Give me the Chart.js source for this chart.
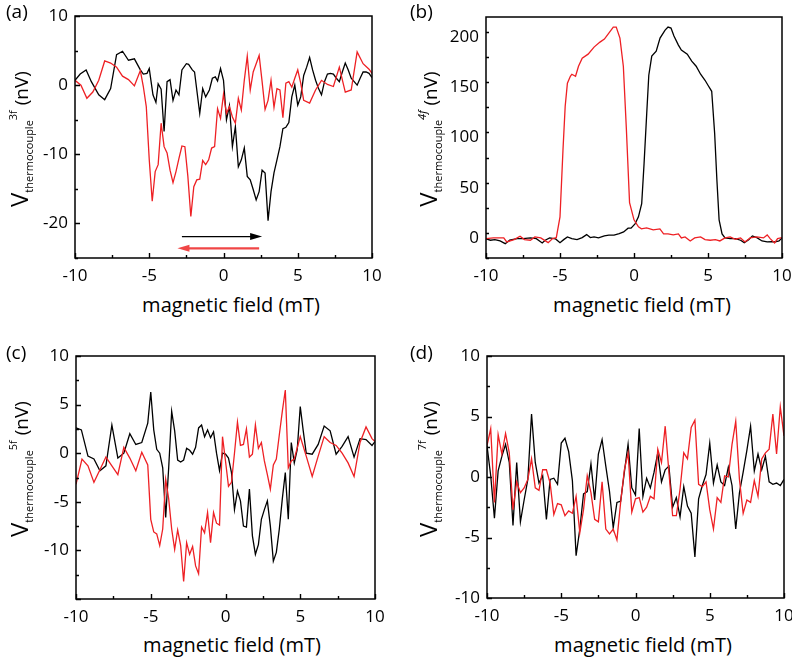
<!DOCTYPE html>
<html>
<head>
<meta charset="utf-8">
<script src="https://cdn.jsdelivr.net/npm/chart.js@4.4.1/dist/chart.umd.min.js"></script>
<style>
  body { margin: 0; background: #fff; width: 792px; height: 658px; position: relative; overflow: hidden; }
  .box { position: absolute; }
  .lab, .xt, .ylab { position: absolute; font-family: 'Open Sans', sans-serif; color: #000; white-space: nowrap; line-height: 1; }
  .lab { font-size: 19px; }
  .xt { font-size: 20px; transform: translate(-50%, -50%); }
  .ylab { font-size: 19px; transform: translate(-50%, -50%) rotate(-90deg); }
  .ylab .big { font-size: 24px; }
  .ylab .sub { font-size: 11px; position: relative; top: 5px; }
  .ylab .sup { font-size: 11px; position: relative; top: -11px; }
</style>
</head>
<body>

<div class="box" style="left:0;top:0"><canvas id="ca" width="396" height="290"></canvas></div>
<div class="box" style="left:396px;top:0"><canvas id="cb" width="396" height="290"></canvas></div>
<div class="box" style="left:0;top:330px"><canvas id="cc" width="396" height="300"></canvas></div>
<div class="box" style="left:396px;top:330px"><canvas id="cd" width="396" height="300"></canvas></div>

<div class="lab" style="left:6px;top:2px">(a)</div>
<div class="lab" style="left:410px;top:2px">(b)</div>
<div class="lab" style="left:6px;top:343px">(c)</div>
<div class="lab" style="left:410px;top:343px">(d)</div>

<div class="ylab" style="left:19px;top:139px"><span class="big">V</span><span class="sub">thermocouple</span><span class="sup">3f</span> (nV)</div>
<div class="ylab" style="left:428px;top:139px"><span class="big">V</span><span class="sub">thermocouple</span><span class="sup"><i>4f</i></span> (nV)</div>
<div class="ylab" style="left:19px;top:469px"><span class="big">V</span><span class="sub">thermocouple</span><span class="sup">5f</span> (nV)</div>
<div class="ylab" style="left:428px;top:469px"><span class="big">V</span><span class="sub">thermocouple</span><span class="sup">7f</span> (nV)</div>

<div class="xt" style="left:231px;top:305px">magnetic field (mT)</div>
<div class="xt" style="left:642px;top:305px">magnetic field (mT)</div>
<div class="xt" style="left:232px;top:645px">magnetic field (mT)</div>
<div class="xt" style="left:643px;top:645px">magnetic field (mT)</div>

<script>
// ---- data ----
// (a) 3f
const aBlackX = [-10, -9.65, -9.25, -8.9, -8.4, -8.0, -7.6, -7.2, -6.8, -6.4, -6.0, -5.6, -5.4, -5.15, -5.0, -4.75, -4.55, -4.4, -4.2, -4.0, -3.8, -3.6, -3.4, -3.2, -3.0, -2.8, -2.5, -2.35, -2.1, -1.95, -1.6, -1.4, -1.2, -0.95, -0.75, -0.55, -0.4, -0.2, 0.0, 0.2, 0.4, 0.6, 0.8, 1.0, 1.2, 1.4, 1.6, 1.8, 2.0, 2.2, 2.4, 2.6, 2.8, 3.0, 3.2, 3.4, 3.6, 3.8, 4.0, 4.2, 4.4, 4.6, 4.8, 5.0, 5.2, 5.4, 5.6, 5.8, 6.0, 6.2, 6.4, 6.6, 6.8, 7.0, 7.2, 7.4, 7.6, 7.8, 8.0, 8.2, 8.4, 8.6, 8.8, 9.0, 9.2, 9.4, 9.6, 9.8, 10.0];
const aBlackY = [0.7, 1.6, 2.2, 0.5, -1.4, -2.1, -0.5, 4.4, 4.9, 3.6, 3.8, 2.2, 1.6, 1.7, 2.4, -1.4, -2.5, 0.2, -0.6, -6.7, 0.5, 0.8, -2.2, -0.7, -1.4, 2.2, 3.1, 3.0, 2.2, 1.9, -4.1, -0.5, -1.7, -0.7, 1.0, 1.2, 0.6, 2.4, 0.7, -5.0, -3.0, -8.9, -6.0, -11.8, -10.8, -9.1, -13.2, -13.7, -15.1, -16.6, -15.4, -12.3, -12.7, -19.6, -15.4, -12.7, -10.8, -8.9, -6.3, -6.1, -5.4, -1.7, 0.0, -2.9, -1.7, 1.4, 2.6, 4.0, 2.2, 0.7, -0.5, -1.4, 0.5, 1.6, 1.7, 1.6, 1.0, 0.5, 1.9, 3.2, 2.2, 1.0, 0.5, 0.0, 1.0, 1.9, 1.9, 1.7, 1.1];
const aRedX = [-10, -9.6, -9.2, -8.8, -8.4, -8.0, -7.6, -7.2, -6.8, -6.4, -6.0, -5.6, -5.4, -5.2, -5.0, -4.8, -4.6, -4.4, -4.2, -4.0, -3.8, -3.6, -3.4, -3.2, -3.0, -2.8, -2.6, -2.4, -2.2, -2.0, -1.8, -1.6, -1.4, -1.2, -1.0, -0.8, -0.6, -0.4, -0.2, 0.0, 0.2, 0.4, 0.6, 0.8, 1.0, 1.2, 1.4, 1.6, 1.8, 2.0, 2.2, 2.4, 2.6, 2.8, 3.0, 3.2, 3.4, 3.6, 3.8, 4.0, 4.2, 4.4, 4.6, 4.8, 5.0, 5.2, 5.4, 5.8, 6.2, 6.6, 7.0, 7.4, 7.8, 8.2, 8.6, 9.0, 9.4, 9.8, 10.0];
const aRedY = [0.7, 0.0, -1.9, -1.0, 0.7, 3.5, 3.2, 2.6, 1.3, 0.8, -0.1, 2.1, -0.2, -3.1, -10.8, -16.8, -12.5, -11.5, -5.5, -8.9, -9.8, -12.3, -14.1, -12.5, -10.6, -8.8, -8.9, -13.2, -19.0, -14.7, -13.7, -13.6, -10.9, -11.5, -10.8, -9.1, -8.9, -3.4, -4.8, -1.3, -4.1, -3.1, -4.6, -5.5, -1.9, -3.6, 0.7, 4.2, -0.7, 1.9, 3.1, 4.3, 0.5, -3.5, -2.2, 0.7, -3.2, -0.5, -0.7, -4.7, 0.3, 0.5, -0.3, 1.0, 2.2, 0.3, -2.2, -2.6, -0.7, 0.7, 0.1, -0.2, 2.6, -1.0, -0.7, 4.8, 3.1, 2.3, 1.7];
// sweep arrows in (a): x from -> to, and height
const arrowBlackX = [-2.8, 2.6];
const arrowRedX = [2.4, -3.1];
const arrowY = [-21.9, -23.6];

// (b) 4f
const bBlackX = [-10, -9.7, -9.4, -9.05, -8.7, -8.4, -7.9, -7.5, -7.0, -6.6, -6.2, -6.0, -5.7, -5.3, -5.0, -4.75, -4.5, -4.2, -3.85, -3.5, -3.2, -2.95, -2.7, -2.4, -2.0, -1.7, -1.35, -1.0, -0.7, -0.4, -0.2, 0.07, 0.3, 0.52, 0.68, 0.86, 1.0, 1.2, 1.5, 1.76, 2.1, 2.3, 2.5, 2.7, 3.0, 3.2, 3.6, 3.9, 4.2, 4.5, 4.8, 5.0, 5.25, 5.45, 5.6, 5.75, 5.95, 6.15, 6.5, 6.85, 7.2, 7.45, 7.75, 8.0, 8.3, 8.65, 9.0, 9.3, 9.55, 9.8, 10];
const bBlackY = [-1, -2.3, -1.7, -3, -5.7, -2.3, -0.7, -0.7, 0, -0.7, -5, -2.3, 0, -1, -4.7, -1.7, 1, -0.7, -1.7, 0.3, 3.3, 0.3, 1, 0, 2, 2.7, 2.7, 4.3, 6, 9.7, 9.7, 14, 21, 34, 74, 124, 162, 181, 186, 199, 207, 210, 209, 201, 192, 187, 183, 176, 171, 163, 157, 152, 146, 104, 58, 18, 4, 0, -0.7, -0.7, -2.3, -4.7, -1.7, 2, 0.3, -3, -4, -3.7, -4, -3, 0];
const bRedX = [-10, -9.5, -8.8, -8.6, -8.1, -7.7, -7.4, -7.0, -6.7, -6.3, -5.8, -5.5, -5.25, -5.0, -4.8, -4.65, -4.5, -4.3, -4.2, -3.95, -3.75, -3.5, -3.1, -2.7, -2.3, -2.0, -1.7, -1.4, -1.2, -0.95, -0.72, -0.52, -0.3, 0, 0.3, 0.5, 0.85, 1.3, 1.75, 2.0, 2.3, 2.65, 3.0, 3.2, 3.45, 3.8, 4.1, 4.5, 4.8, 5.15, 5.5, 5.8, 6.15, 6.5, 6.85, 7.2, 7.5, 7.85, 8.3, 8.75, 9.0, 9.2, 9.5, 9.7, 10];
const bRedY = [-0.7, 0, 0, -4, -1.7, 1.7, -1.7, -2.3, 1, 0, -4.7, -0.7, 0.3, 21, 87, 131, 154, 161, 163, 161, 171, 179, 183, 190, 195, 198, 204, 210, 210, 199, 171, 110, 35, 18, 11, 9, 10, 8, 9, 4, 4, 3, 4, 0, 1, -3, 0, 1, -1.7, -2.3, -1.7, -3, 0, 1, -1.3, 0, -4, 0, 1, 0, 3, -0.7, -5, -0.7, 0.3];

// (c) 5f
const cBlackX = [-10, -9.64, -9.2, -8.8, -8.4, -8.0, -7.6, -7.2, -6.8, -6.4, -6.0, -5.6, -5.2, -5.0, -4.8, -4.6, -4.4, -4.2, -4.0, -3.8, -3.6, -3.4, -3.2, -3.0, -2.8, -2.6, -2.4, -2.2, -2.0, -1.8, -1.6, -1.4, -1.2, -1.0, -0.8, -0.6, -0.4, -0.2, 0, 0.2, 0.4, 0.6, 0.8, 1.0, 1.2, 1.4, 1.6, 1.8, 2.0, 2.2, 2.4, 2.6, 2.8, 3.0, 3.2, 3.4, 3.6, 3.8, 4.0, 4.2, 4.4, 4.6, 4.8, 5.0, 5.2, 5.4, 5.8, 6.2, 6.6, 7.0, 7.4, 7.8, 8.2, 8.6, 9.0, 9.4, 9.8, 10];
const cBlackY = [2.6, 2.4, -0.3, -0.6, -1.8, -1.3, 2.9, -0.5, 0, 2.0, 0.9, 1.1, 3.1, 6.3, 2.4, 0.4, 0, -1.5, -6.6, -1.5, 4.3, 2.3, -0.7, -0.9, -0.7, 0.5, 0.3, -0.1, 0.6, 2.6, 2.9, 1.7, 2.4, 1.6, 2.2, 0, -1.8, 0, -0.1, -0.5, -2.0, -5.8, -3.9, -4.9, -7.5, -7.6, -3.7, -8.5, -10.4, -9.4, -6.8, -5.8, -4.9, -7.5, -11.1, -10.2, -7.8, -4.7, -2.0, -6.8, 1.1, -1.0, 0.4, 4.8, 2.3, 0, -0.1, 0.9, 2.8, 2.3, -0.1, 0.7, 1.7, -0.4, 1.5, 1.4, 0.8, 1.2];
const cRedX = [-10, -9.6, -9.2, -8.8, -8.4, -8.0, -7.6, -7.2, -6.8, -6.4, -6.0, -5.6, -5.2, -5.0, -4.8, -4.6, -4.4, -4.2, -4.0, -3.8, -3.6, -3.4, -3.2, -3.0, -2.8, -2.6, -2.4, -2.2, -2.0, -1.8, -1.6, -1.4, -1.2, -1.0, -0.8, -0.6, -0.4, -0.2, 0, 0.2, 0.4, 0.6, 0.8, 1.0, 1.2, 1.4, 1.6, 1.8, 2.0, 2.2, 2.4, 2.6, 2.8, 3.0, 3.2, 3.4, 3.6, 3.8, 4.0, 4.2, 4.4, 4.6, 5.0, 5.4, 5.8, 6.2, 6.6, 7.0, 7.4, 7.8, 8.2, 8.6, 9.0, 9.4, 9.8, 10];
const cRedY = [-3.2, -0.6, -1.3, -3.0, -1.7, -0.4, -1.3, -2.2, 0.6, -0.5, -1.8, 0.1, -1.2, -6.8, -8.1, -8.3, -9.5, -7.8, -2.7, -4.7, -7.8, -9.9, -7.9, -9.5, -13.2, -9.2, -10.4, -9.6, -11.6, -12.4, -7.6, -8.2, -6.1, -9.2, -6.1, -7.2, -7.4, 1.7, -0.8, -3.4, -3.0, 0, 3.2, 0.8, 0.9, 2.5, -0.4, -0.1, 2.9, 0.5, 1.1, -0.8, -2.2, -3.7, -1.2, -0.6, 1.9, 4.3, 6.5, -1.5, -0.8, -0.6, 1.7, -0.3, -2.4, -0.3, 1.7, 1.1, 0.8, 0, -1.0, -2.4, 1.1, 2.7, 1.5, 1.2];

// (d) 7f
const dX = [-10, -9.75, -9.5, -9.25, -9, -8.75, -8.5, -8.25, -8, -7.75, -7.5, -7.25, -7, -6.75, -6.5, -6.25, -6, -5.75, -5.5, -5.25, -5, -4.75, -4.5, -4.25, -4, -3.75, -3.5, -3.25, -3, -2.75, -2.5, -2.25, -2, -1.75, -1.5, -1.25, -1, -0.75, -0.5, -0.25, 0, 0.25, 0.5, 0.75, 1, 1.25, 1.5, 1.75, 2, 2.25, 2.5, 2.75, 3, 3.25, 3.5, 3.75, 4, 4.25, 4.5, 4.75, 5, 5.25, 5.5, 5.75, 6, 6.25, 6.5, 6.75, 7, 7.25, 7.5, 7.75, 8, 8.25, 8.5, 8.75, 9, 9.25, 9.5, 9.75, 10];
const dBlackY = [2.6, 0.1, -3.4, 0.5, 1.7, 2.7, 1.2, -4.0, 1.2, -3.7, -1.9, -0.2, 5.2, 1.2, -0.5, 0.1, -3.5, -0.2, -0.1, -0.6, 2.8, 3.2, 2.1, -0.3, -6.5, -4.3, -1.4, -1.2, 1.1, -1.9, 1.9, 3.1, 0.9, -1.2, -4.2, -2.1, -2.0, 0.4, 2.7, -0.9, -1.5, 4.0, -1.6, -0.1, -0.9, 0.4, 2.0, -0.4, 0.6, 0.9, -2.5, -1.7, -3.3, -0.8, -2.4, -3.0, -6.6, -1.8, -0.7, 0.2, 2.8, -0.5, 1.0, -0.4, -0.7, 0.8, -0.7, -4.3, -1.3, 0.4, 2.2, 4.2, 0.5, 1.9, 0.6, 1.7, -0.4, -0.6, -0.5, -0.7, -0.2];
const dRedY = [2.6, 4.0, -2.1, 3.5, 1.9, 3.6, 2.0, -2.7, -0.4, -1.3, -0.9, -0.2, 1.5, -0.9, -1.1, 0.6, 0.6, -0.5, -3.1, -2.2, -2.3, -3.2, -2.8, -3.0, -1.6, -4.6, -2.7, 0.1, -1.3, -3.5, -3.7, -0.4, -4.3, -4.7, -4.3, -5.2, -2.1, 0.6, 2.0, -2.9, -1.8, -1.7, -2.9, -2.5, -1.6, -1.8, 2.3, 1.2, 4.2, 0.4, -3.2, -3.2, -1.0, 2.0, 1.5, 4.1, 4.7, -0.6, -0.8, -0.4, -2.7, -4.3, -1.7, -2.1, 0.1, 0, 2.7, 4.6, -0.2, -3.0, -1.9, -2.1, -0.3, -1.6, 1.5, 2.0, 2.3, 5.2, 1.9, 5.8, 3.4];

// axis ranges and tick labels
const xRange = [-10, 10];
const xTicks = [-10, -5, 0, 5, 10];
const aRange = [-25, 10], aTicks = [-20, -10, 0, 10];
const bRange = [-20, 220], bTicks = [0, 50, 100, 150, 200];
const cRange = [-15, 10], cTicks = [-10, -5, 0, 5, 10];
const dRange = [-10, 10], dTicks = [-10, -5, 0, 5, 10];

const RED = 'rgb(238,32,36)';
const FONT = "'Open Sans', sans-serif";

function pairs(xs, ys) {
  return xs.map((x, i) => ({ x: x, y: ys[i] }));
}

// box frame with inward major/minor ticks
const frameTicks = {
  id: 'frameTicks',
  afterDraw(chart, args, o) {
    const { ctx, chartArea: a, scales } = chart;
    const x = scales.x, y = scales.y;
    ctx.save();
    ctx.strokeStyle = '#000';
    ctx.lineWidth = 1.4;
    ctx.beginPath();
    for (let v = x.min; v <= x.max + 1e-9; v += o.xMinor) {
      const p = Math.round(x.getPixelForValue(v)) + 0.5;
      const len = Math.abs(v / o.xMajor - Math.round(v / o.xMajor)) < 1e-6 ? 5 : 3;
      ctx.moveTo(p, a.bottom); ctx.lineTo(p, a.bottom - len);
    }
    for (let v = y.min; v <= y.max + 1e-9; v += o.yMinor) {
      const p = Math.round(y.getPixelForValue(v)) + 0.5;
      const len = Math.abs(v / o.yMajor - Math.round(v / o.yMajor)) < 1e-6 ? 5 : 3;
      ctx.moveTo(a.left, p); ctx.lineTo(a.left + len, p);
    }
    ctx.stroke();
    ctx.lineWidth = 1.5;
    ctx.strokeRect(a.left, a.top, a.right - a.left, a.bottom - a.top);
    ctx.restore();
  }
};

// sweep direction arrows (panel a)
const sweepArrows = {
  id: 'sweepArrows',
  afterDatasetsDraw(chart, args, o) {
    if (!o.show) return;
    const { ctx, scales: { x, y } } = chart;
    const draw = (xs, yv, color, w) => {
      const x0 = x.getPixelForValue(xs[0]), x1 = x.getPixelForValue(xs[1]);
      const py = y.getPixelForValue(yv);
      const dir = Math.sign(x1 - x0);
      ctx.strokeStyle = color; ctx.fillStyle = color; ctx.lineWidth = w;
      ctx.beginPath(); ctx.moveTo(x0, py); ctx.lineTo(x1 - dir * 10, py); ctx.stroke();
      ctx.beginPath(); ctx.moveTo(x1, py); ctx.lineTo(x1 - dir * 12, py - 3.5); ctx.lineTo(x1 - dir * 12, py + 3.5); ctx.closePath(); ctx.fill();
    };
    ctx.save();
    draw(arrowBlackX, arrowY[0], '#000', 1.3);
    draw(arrowRedX, arrowY[1], 'rgb(240,70,70)', 2.2);
    ctx.restore();
  }
};

function makeChart(id, box, red, black, yRange, yTicks, minor, arrows) {
  new Chart(document.getElementById(id), {
    type: 'scatter',
    data: {
      datasets: [
        { data: red, borderColor: RED, borderWidth: 1.3, showLine: true, pointRadius: 0, tension: 0 },
        { data: black, borderColor: '#000', borderWidth: 1.3, showLine: true, pointRadius: 0, tension: 0 }
      ]
    },
    options: {
      responsive: false,
      animation: false,
      events: [],
      layout: { padding: { left: 0, top: box.top, right: box.right, bottom: 0 } },
      plugins: {
        legend: { display: false },
        tooltip: { enabled: false },
        frameTicks: minor,
        sweepArrows: { show: arrows }
      },
      scales: {
        x: {
          type: 'linear', min: xRange[0], max: xRange[1],
          grid: { display: false, drawTicks: false }, border: { display: false },
          ticks: { font: { family: FONT, size: 17 }, color: '#000', padding: 8, maxRotation: 0 },
          afterBuildTicks: s => { s.ticks = xTicks.map(v => ({ value: v })); },
          afterFit: s => { s.height = box.xh; s.paddingLeft = 0; s.paddingRight = 0; }
        },
        y: {
          type: 'linear', min: yRange[0], max: yRange[1],
          grid: { display: false, drawTicks: false }, border: { display: false },
          ticks: { font: { family: FONT, size: 17 }, color: '#000', padding: 7 },
          afterBuildTicks: s => { s.ticks = yTicks.map(v => ({ value: v })); },
          afterFit: s => { s.width = box.yw; s.paddingTop = 0; s.paddingBottom = 0; }
        }
      }
    },
    plugins: [frameTicks, sweepArrows]
  });
}

makeChart('ca', { top: 16, right: 24, yw: 75, xh: 32 }, pairs(aRedX, aRedY), pairs(aBlackX, aBlackY),
  aRange, aTicks, { xMinor: 2.5, xMajor: 5, yMinor: 5, yMajor: 10 }, true);
makeChart('cb', { top: 17, right: 10, yw: 90, xh: 32 }, pairs(bRedX, bRedY), pairs(bBlackX, bBlackY),
  bRange, bTicks, { xMinor: 2.5, xMajor: 5, yMinor: 25, yMajor: 50 }, false);
makeChart('cc', { top: 26, right: 21, yw: 76, xh: 31 }, pairs(cRedX, cRedY), pairs(cBlackX, cBlackY),
  cRange, cTicks, { xMinor: 2.5, xMajor: 5, yMinor: 2.5, yMajor: 5 }, false);
makeChart('cd', { top: 26, right: 8, yw: 91, xh: 32 }, pairs(dX, dRedY), pairs(dX, dBlackY),
  dRange, dTicks, { xMinor: 2.5, xMajor: 5, yMinor: 2.5, yMajor: 5 }, false);
</script>
</body>
</html>
